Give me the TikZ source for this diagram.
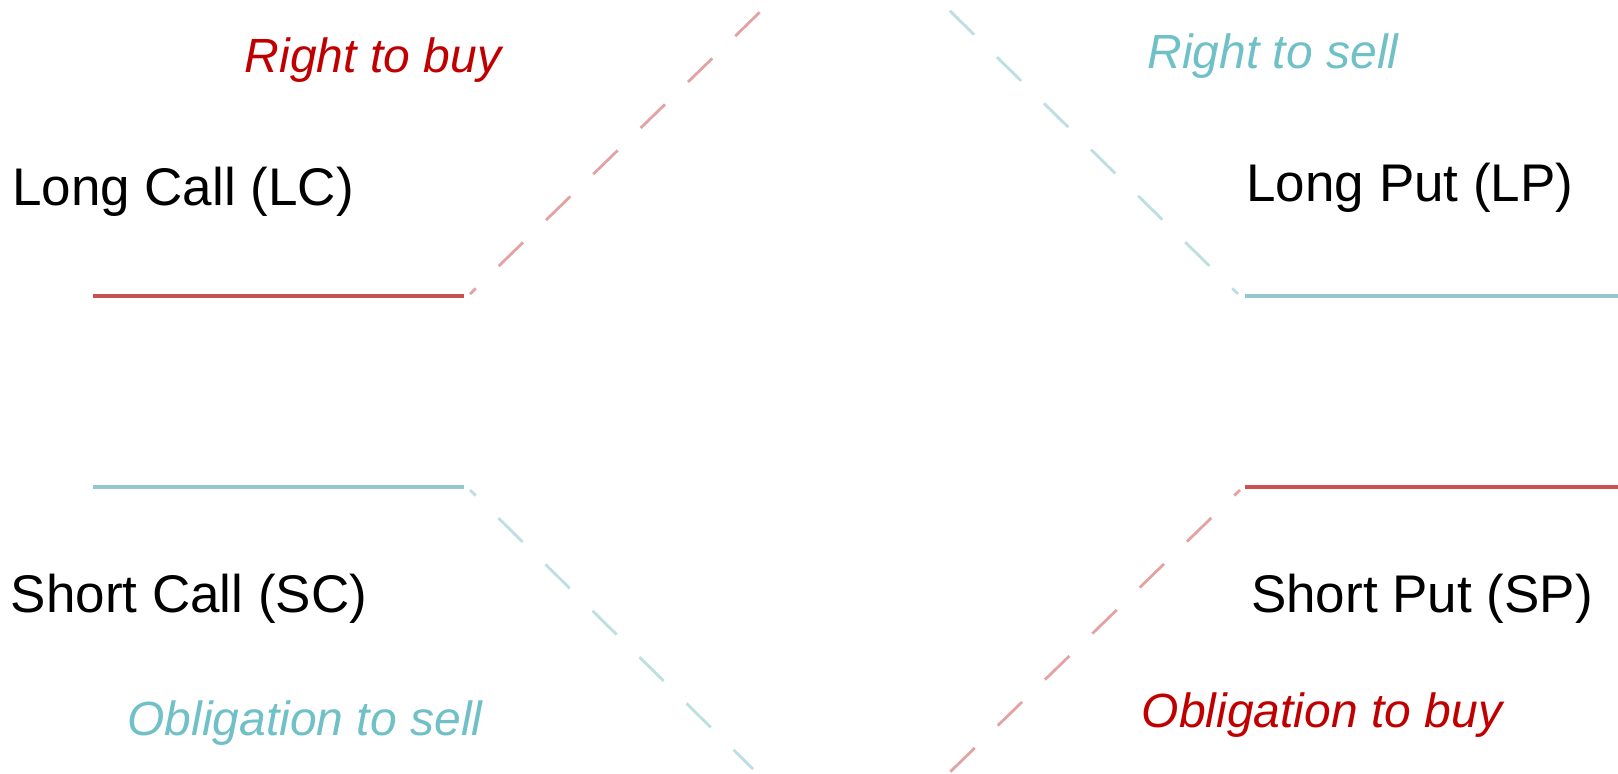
\documentclass[tikz,border=0pt]{standalone}
\usepackage{fontspec}
\setmainfont{Liberation Sans}
\definecolor{callred}{HTML}{C00000}
\definecolor{lineRed}{HTML}{C85252}
\definecolor{dashRed}{HTML}{E3A3A3}
\definecolor{putteal}{HTML}{70C0C8}
\definecolor{lineTeal}{HTML}{95C8CE}
\definecolor{dashTeal}{HTML}{BCDFE2}
\begin{document}
\begin{tikzpicture}[x=1pt, y=-1pt,
    label/.style={inner sep=0pt, font=\fontsize{53}{60}\selectfont},
    hint/.style={inner sep=0pt, font=\fontsize{48}{54}\selectfont\itshape},
    payoff/.style={line width=3.5pt},
    branch/.style={line width=2.8pt, dash pattern=on 34pt off 32pt}]
    \useasboundingbox (0,0) rectangle (1618,774);

    % Position labels
    \node[label] (LC) at (183,192) {Long Call (LC)};
    \node[label] (SC) at (189,599) {Short Call (SC)};
    \node[label] (LP) at (1410,188) {Long Put (LP)};
    \node[label] (SP) at (1422,599) {Short Put (SP)};

    % Rights and obligations
    \node[hint, text=callred] (RB) at (373,60) {Right to buy};
    \node[hint, text=putteal] (RS) at (1273,56) {Right to sell};
    \node[hint, text=putteal] (OS) at (305,723) {Obligation to sell};
    \node[hint, text=callred] (OB) at (1322,715) {Obligation to buy};

    % Kink points of the payoff lines
    \coordinate (LCa) at (93,296);
    \coordinate (LCb) at (464,296);
    \coordinate (LCc) at (470,294);
    \coordinate (LCd) at (762,10);
    \coordinate (SCa) at (93,487);
    \coordinate (SCb) at (464,487);
    \coordinate (SCc) at (470,490);
    \coordinate (SCd) at (753,769);
    \coordinate (LPa) at (1618,296);
    \coordinate (LPb) at (1245,296);
    \coordinate (LPc) at (1238,294);
    \coordinate (LPd) at (949,10);
    \coordinate (SPa) at (1618,487);
    \coordinate (SPb) at (1245,487);
    \coordinate (SPc) at (1240,490);
    \coordinate (SPd) at (949,773);

    % Flat parts
    \draw[payoff, lineRed] (LCa) -- (LCb);
    \draw[payoff, lineTeal] (SCa) -- (SCb);
    \draw[payoff, lineTeal] (LPa) -- (LPb);
    \draw[payoff, lineRed] (SPa) -- (SPb);

    % Sloped parts
    \draw[branch, dashRed, dash phase=26pt] (LCc) -- (LCd);
    \draw[branch, dashTeal, dash phase=26pt] (SCc) -- (SCd);
    \draw[branch, dashTeal, dash phase=26pt] (LPc) -- (LPd);
    \draw[branch, dashRed, dash phase=26pt] (SPc) -- (SPd);

\end{tikzpicture}
\end{document}
